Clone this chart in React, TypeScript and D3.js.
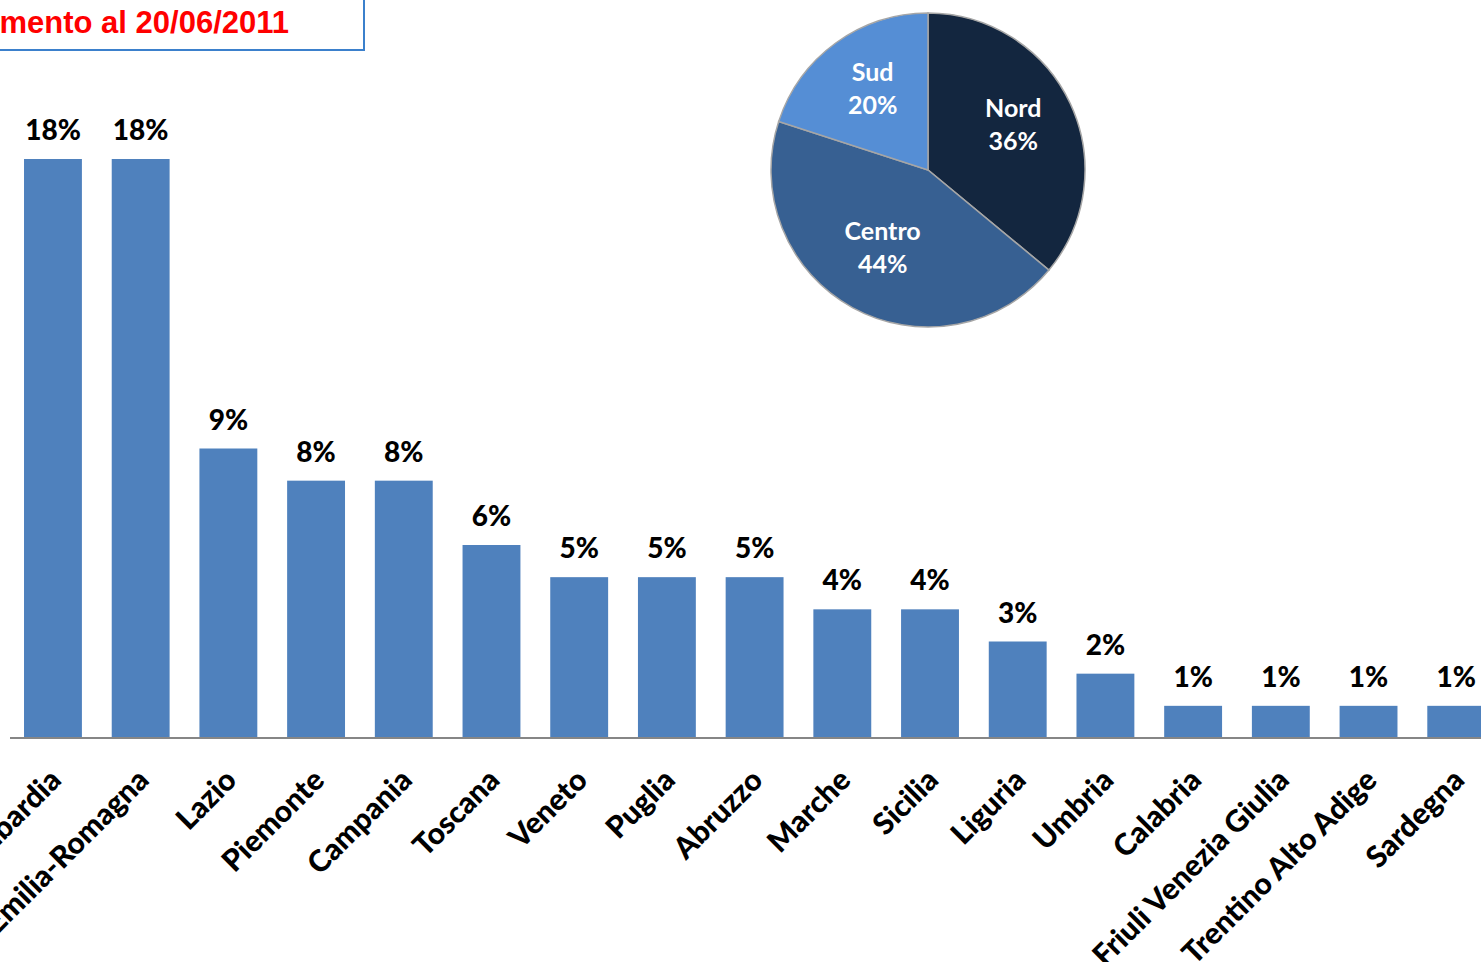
import * as d3 from "d3";

const regions = [
  "Lombardia",
  "Emilia-Romagna",
  "Lazio",
  "Piemonte",
  "Campania",
  "Toscana",
  "Veneto",
  "Puglia",
  "Abruzzo",
  "Marche",
  "Sicilia",
  "Liguria",
  "Umbria",
  "Calabria",
  "Friuli Venezia Giulia",
  "Trentino Alto Adige",
  "Sardegna",
];
const regionShare = [18, 18, 9, 8, 8, 6, 5, 5, 5, 4, 4, 3, 2, 1, 1, 1, 1];

const areas = ["Nord", "Centro", "Sud"];
const areaShare = [36, 44, 20];
const areaColors = ["#13263F", "#376092", "#558ED5"];

const titleText = "Aggiornamento al 20/06/2011";

const W = 1481;
const H = 962;
const baseY = 738;

export default function App() {
  const x = d3.scaleBand<string>().domain(regions).range([-5.8, 1515]).padding(0.34);
  const y = d3.scaleLinear().domain([0, 18]).range([baseY, 159]);

  const bars = regions.map((r, i) => ({ r, v: regionShare[i] }));

  const pieData = d3
    .pie<number>()
    .sort(null)
    .value((d) => d)(areaShare);
  const R = 157;
  const arc = d3.arc<d3.PieArcDatum<number>>().innerRadius(0).outerRadius(R);
  const labelArc = d3.arc<d3.PieArcDatum<number>>().innerRadius(R * 0.6).outerRadius(R * 0.6);

  return (
    <div style={{ position: "absolute", left: 0, top: 0 }}>
      <svg width={W} height={H} style={{ display: "block", background: "#fff" }}>
        {/* title box, mostly out of frame */}
        <rect x={-20} y={-40} width={384} height={90} fill="#fff" stroke="#3B80CC" strokeWidth={2} />
        <text
          x={289}
          y={33}
          textAnchor="end"
          fontFamily="'Liberation Sans', Arial, sans-serif"
          fontWeight="bold"
          fontSize={31}
          fill="#FF0000"
        >
          {titleText}
        </text>

        {/* bars */}
        <g>
          {bars.map((d) => (
            <rect
              key={d.r}
              x={x(d.r)}
              y={y(d.v)}
              width={x.bandwidth()}
              height={baseY - y(d.v)}
              fill="#4F81BD"
            />
          ))}
        </g>
        <line x1={10} x2={W} y1={baseY} y2={baseY} stroke="#868686" strokeWidth={2} />

        {/* value labels */}
        <g fontFamily="Lato, 'Open Sans', sans-serif" fontWeight="900" fontSize={28} fill="#000">
          {bars.map((d) => (
            <text key={d.r} x={(x(d.r) ?? 0) + x.bandwidth() / 2} y={y(d.v) - 19} textAnchor="middle">
              {d.v}%
            </text>
          ))}
        </g>

        {/* category labels */}
        <g fontFamily="Lato, 'Open Sans', sans-serif" fontWeight="900" fontSize={30} fill="#000">
          {bars.map((d) => {
            const cx = (x(d.r) ?? 0) + x.bandwidth() / 2;
            return (
              <text
                key={d.r}
                transform={`translate(${cx + 10},${baseY + 44}) rotate(-45)`}
                textAnchor="end"
              >
                {d.r}
              </text>
            );
          })}
        </g>

        {/* pie */}
        <g transform="translate(928,170)">
          {pieData.map((p, i) => (
            <path key={areas[i]} d={arc(p) ?? ""} fill={areaColors[i]} stroke="#A6A6A6" strokeWidth={1.5} />
          ))}
          <g fontFamily="Lato, 'Open Sans', sans-serif" fontWeight="bold" fontSize={25} fill="#fff" textAnchor="middle">
            {pieData.map((p, i) => {
              const [lx, ly] = labelArc.centroid(p);
              return (
                <text key={areas[i]} x={lx} y={ly}>
                  <tspan x={lx} dy="-0.5em">{areas[i]}</tspan>
                  <tspan x={lx} dy="1.3em">{areaShare[i]}%</tspan>
                </text>
              );
            })}
          </g>
        </g>
      </svg>
    </div>
  );
}
